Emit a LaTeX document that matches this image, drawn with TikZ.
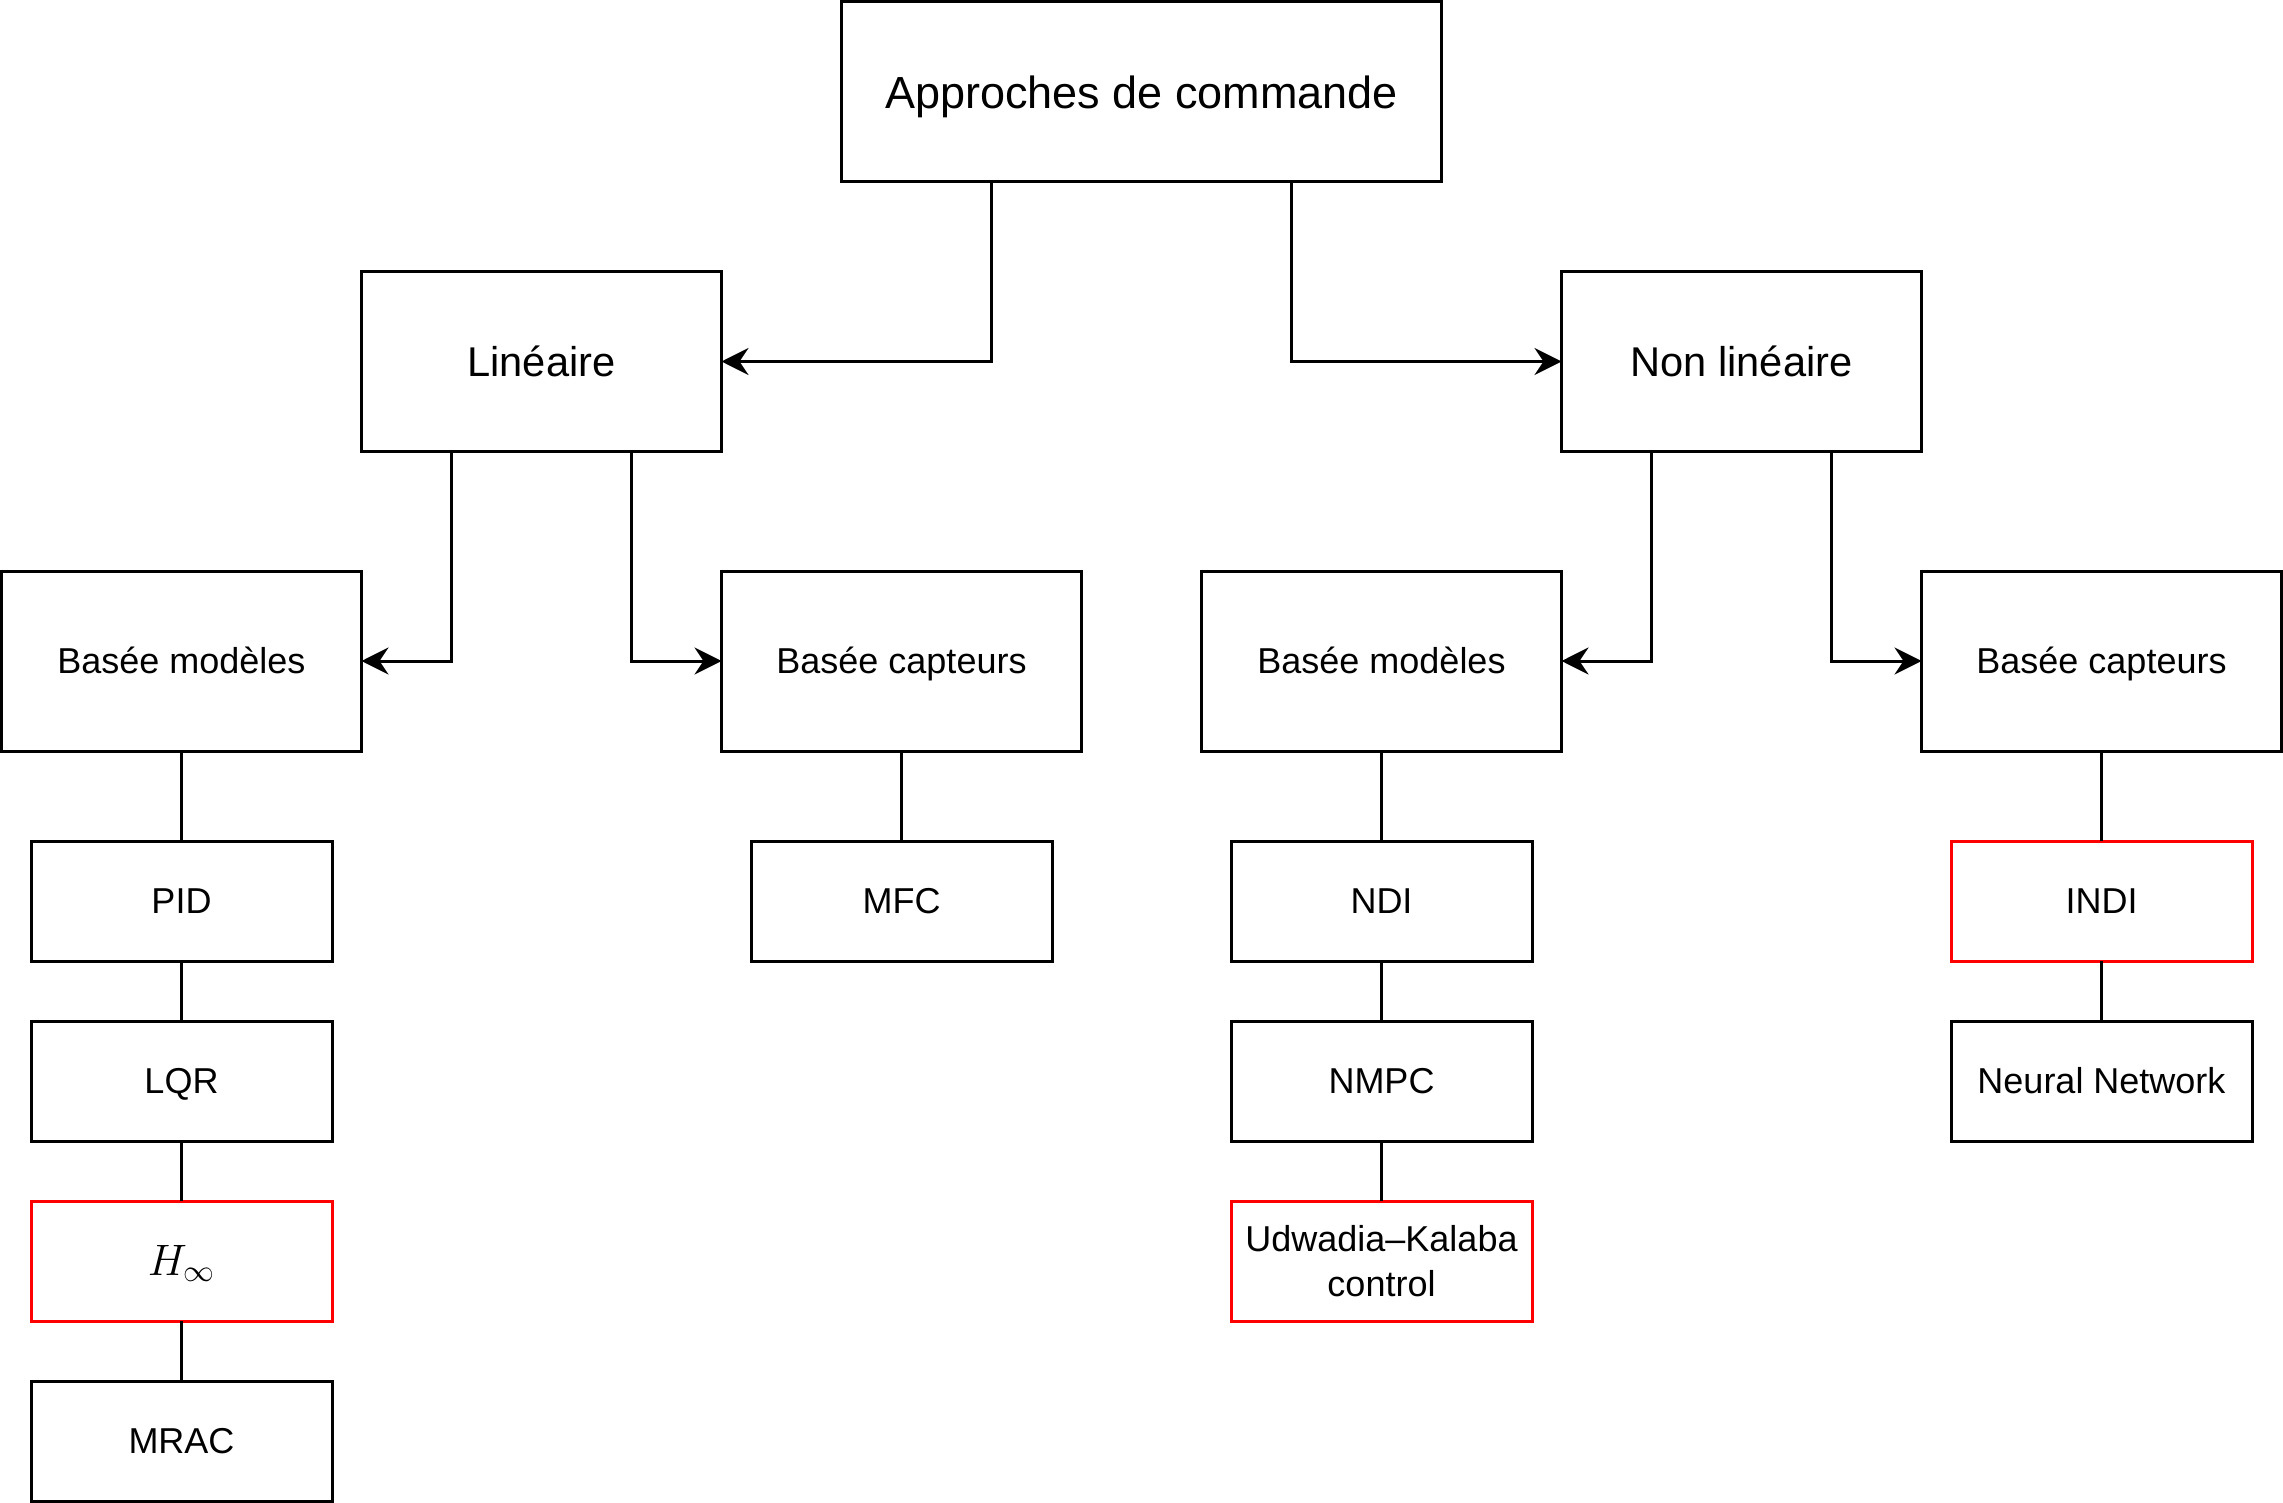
\RequirePackage{fix-cm}
\documentclass[tikz,border=0pt]{standalone}
\usepackage{fontspec}
\setmainfont{Liberation Sans}
\usetikzlibrary{positioning}
\usetikzlibrary{calc}
\usetikzlibrary{arrows.meta}

\begin{document}
\begin{tikzpicture}[x=0.5pt, y=-0.5pt, line width=1.5pt,
    box/.style={draw, rectangle, outer sep=0pt, inner sep=2pt, align=center, text depth=0pt},
    bigbox/.style={box, minimum width=180pt, minimum height=90pt, text height=14.9pt, font=\fontsize{20.8}{25}\selectfont},
    catbox/.style={box, minimum width=180pt, minimum height=90pt, text height=12.9pt, font=\fontsize{18}{22}\selectfont},
    methbox/.style={box, minimum width=150.5pt, minimum height=60pt, text height=12.9pt, font=\fontsize{18}{22.5}\selectfont},
    hilite/.style={draw=red},
    arr/.style={-{Stealth[length=13.5pt, width=13.5pt, inset=4.5pt]}},
    node distance=30pt and 0pt]

  \useasboundingbox (0,0) rectangle (2283,1503);

  % racine
  \node[box, minimum width=300pt, minimum height=90pt, text height=16.1pt, font=\fontsize{22.5}{27}\selectfont] (top) at (1141.5,92) {Approches de commande};

  \node[bigbox] (lin) at (541.5,361.5) {Linéaire};
  \node[bigbox] (nonlin) at (1741.5,361.5) {Non linéaire};

  \node[catbox] (linmod) at (181.5,661) {Basée modèles};
  \node[catbox] (lincap) at (901.5,661) {Basée capteurs};
  \node[catbox] (nlmod) at (1381.5,661) {Basée modèles};
  \node[catbox] (nlcap) at (2101.5,661) {Basée capteurs};

  % lineaire, modeles
  \node[methbox, below=45pt of linmod] (pid) {PID};
  \node[methbox, below=of pid] (lqr) {LQR};
  \node[methbox, hilite, below=of lqr, text height=14.2pt, font=\fontsize{22}{26}\selectfont] (hinf) {$H_\infty$};
  \node[methbox, below=of hinf] (mrac) {MRAC};

  % lineaire, capteurs
  \node[methbox, below=45pt of lincap] (mfc) {MFC};

  % non lineaire, modeles
  \node[methbox, below=45pt of nlmod] (ndi) {NDI};
  \node[methbox, below=of ndi] (nmpc) {NMPC};
  \node[methbox, hilite, below=of nmpc, text height=, text depth=] (udk) {Udwadia--Kalaba\\control};

  % non lineaire, capteurs
  \node[methbox, hilite, below=45pt of nlcap] (indi) {INDI};
  \node[methbox, below=of indi] (nn) {Neural Network};

  \draw[arr] ($(top.south west)!0.25!(top.south east)$) |- (lin);
  \draw[arr] ($(top.south west)!0.75!(top.south east)$) |- (nonlin);

  \draw[arr] ($(lin.south west)!0.25!(lin.south east)$) |- (linmod);
  \draw[arr] ($(lin.south west)!0.75!(lin.south east)$) |- (lincap);
  \draw[arr] ($(nonlin.south west)!0.25!(nonlin.south east)$) |- (nlmod);
  \draw[arr] ($(nonlin.south west)!0.75!(nonlin.south east)$) |- (nlcap);

  \path[-]
  (linmod) edge (pid)
  (pid) edge (lqr)
  (lqr) edge (hinf)
  (hinf) edge (mrac)
  (lincap) edge (mfc)
  (nlmod) edge (ndi)
  (ndi) edge (nmpc)
  (nmpc) edge (udk)
  (nlcap) edge (indi)
  (indi) edge (nn);
\end{tikzpicture}
\end{document}
